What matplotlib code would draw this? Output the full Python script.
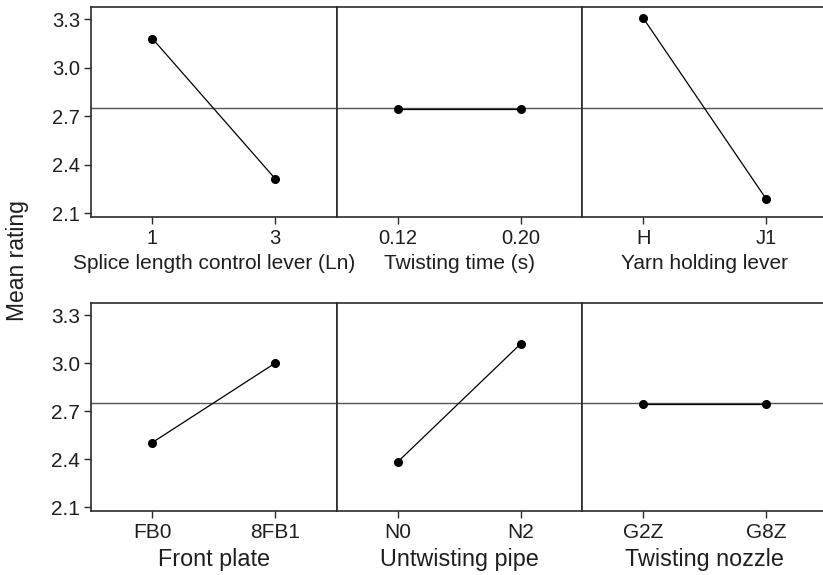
import matplotlib
matplotlib.use("Agg")
import matplotlib.pyplot as plt

plt.rcParams['font.family'] = ['Liberation Sans', 'DejaVu Sans']

# factor names, levels and mean ratings
factors = ['Splice length control lever (Ln)', 'Twisting time (s)', 'Yarn holding lever',
           'Front plate', 'Untwisting pipe', 'Twisting nozzle']
levels = [['1', '3'], ['0.12', '0.20'], ['H', 'J1'],
          ['FB0', '8FB1'], ['N0', 'N2'], ['G2Z', 'G8Z']]
means = [[3.18, 2.315], [2.745, 2.745], [3.305, 2.19],
         [2.505, 3.0], [2.385, 3.12], [2.748, 2.748]]
grand_mean = 2.75
yticks = [2.1, 2.4, 2.7, 3.0, 3.3]

W, H = 823, 575
fig = plt.figure(figsize=(W / 100, H / 100), dpi=100)

dark = '#2b2b2b'
txt = '#1e1e1e'
left_px = 91
panel_w = 245.5
rows = [(7, 217), (303, 511)]
label_size = [15, 16.8]
tick_size = [14.5, 15]

for i, fac in enumerate(factors):
    r, c = divmod(i, 3)
    top, bot = rows[r]
    ax = fig.add_axes([(left_px + c * panel_w) / W, 1 - bot / H,
                       panel_w / W, (bot - top) / H])
    x = [1, 2]
    ax.axhline(grand_mean, color='#555555', lw=1.0, zorder=1)
    ax.plot(x, means[i], color='black', lw=0.9, marker='o', ms=5.5, zorder=3)
    ax.set_xlim(0.5, 2.5)
    ax.set_ylim(2.078, 3.375)
    ax.set_xticks(x)
    ax.set_xticklabels(levels[i])
    ax.set_xlabel(fac, fontsize=label_size[r], color=txt, labelpad=4)
    if c == 0:
        ax.set_yticks(yticks)
        ax.set_yticklabels([f'{v:.1f}' for v in yticks])
    else:
        ax.set_yticks([])
    ax.tick_params(direction='out', length=5, width=1, color=dark,
                   labelsize=tick_size[r], labelcolor=txt, pad=3)
    ax.tick_params(axis='x', pad=4)
    for s in ax.spines.values():
        s.set_color(dark)
        s.set_linewidth(1.2)

fig.text(18 / W, 1 - 261 / H, 'Mean rating', rotation=90, fontsize=16.5,
         color=txt, ha='center', va='center')

fig.savefig('out.png', dpi=100)
